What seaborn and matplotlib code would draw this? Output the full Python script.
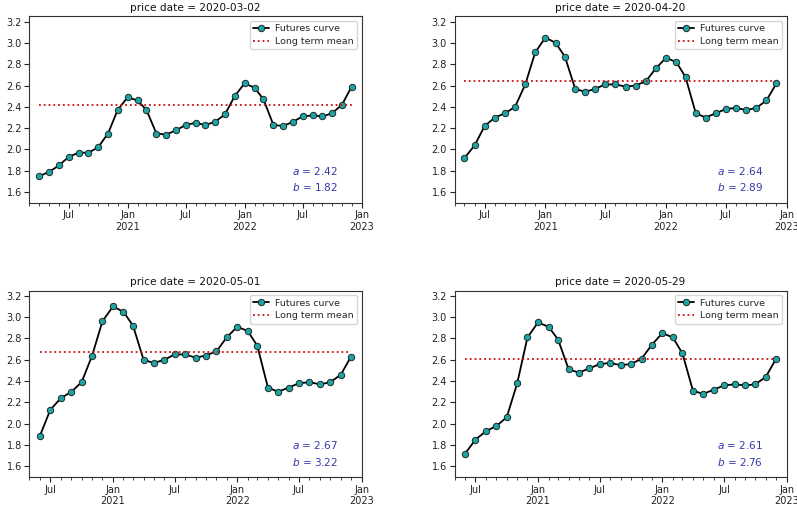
import numpy as np
import pandas as pd
import matplotlib
matplotlib.use("Agg")
import matplotlib.pyplot as plt
import matplotlib.dates as mdates
from matplotlib.ticker import FuncFormatter
import seaborn as sns

price_dates = ["2020-03-02", "2020-04-20", "2020-05-01", "2020-05-29"]
first_months = ["2020-04-01", "2020-05-01", "2020-06-01", "2020-06-01"]

curve_0302 = [1.75, 1.79, 1.85, 1.93, 1.97, 1.97, 2.02, 2.15, 2.37,
              2.49, 2.46, 2.37, 2.15, 2.14, 2.18, 2.23, 2.25, 2.23, 2.26, 2.33, 2.50,
              2.62, 2.58, 2.47, 2.23, 2.22, 2.26, 2.31, 2.32, 2.31, 2.34, 2.42, 2.59]
curve_0420 = [1.92, 2.04, 2.22, 2.30, 2.34, 2.40, 2.61, 2.91,
              3.05, 3.00, 2.87, 2.57, 2.54, 2.57, 2.61, 2.61, 2.59, 2.60, 2.64, 2.76,
              2.86, 2.82, 2.68, 2.34, 2.30, 2.34, 2.38, 2.39, 2.37, 2.39, 2.46, 2.62]
curve_0501 = [1.89, 2.13, 2.24, 2.30, 2.39, 2.64, 2.96,
              3.10, 3.05, 2.92, 2.60, 2.57, 2.60, 2.65, 2.65, 2.62, 2.64, 2.68, 2.81,
              2.91, 2.87, 2.73, 2.34, 2.30, 2.34, 2.38, 2.39, 2.37, 2.39, 2.46, 2.63]
curve_0529 = [1.72, 1.85, 1.93, 1.98, 2.06, 2.38, 2.81,
              2.95, 2.91, 2.79, 2.51, 2.48, 2.52, 2.56, 2.57, 2.55, 2.56, 2.61, 2.74,
              2.85, 2.81, 2.66, 2.31, 2.28, 2.32, 2.36, 2.37, 2.36, 2.37, 2.44, 2.61]
curves = [curve_0302, curve_0420, curve_0501, curve_0529]

a_values = [2.42, 2.64, 2.67, 2.61]
b_values = [1.82, 2.89, 3.22, 2.76]

sns.set_style("ticks")
plt.rcParams["font.family"] = ["DejaVu Sans"]

fig, axes = plt.subplots(2, 2, figsize=(7.97, 5.07), dpi=100)
fig.subplots_adjust(left=0.037, right=0.987, top=0.968, bottom=0.059,
                    wspace=0.28, hspace=0.47)

def fmt(x, pos=None):
    d = mdates.num2date(x)
    if d.month == 1:
        return "Jan\n%d" % d.year
    return d.strftime("%b")

for ax, pdate, fm, vals, a, b in zip(axes.flat, price_dates, first_months,
                                     curves, a_values, b_values):
    dates = pd.date_range(fm, periods=len(vals), freq="MS")
    df = pd.DataFrame({"date": dates, "price": vals})
    sns.lineplot(data=df, x="date", y="price", ax=ax, color="black", lw=1.3,
                 marker="o", markersize=4.6, markerfacecolor="#1fa3a3",
                 markeredgecolor="#1a2a2a", markeredgewidth=0.7,
                 label="Futures curve")
    ax.hlines(a, dates[0], dates[-1], colors="#cc1111", linestyles=":",
              lw=1.3, label="Long term mean")
    ax.set_xlim(dates[0] - pd.DateOffset(months=1), dates[-1] + pd.DateOffset(months=1))
    ax.set_ylim(1.5, 3.25)
    ax.set_yticks(np.arange(1.6, 3.21, 0.2))
    ax.yaxis.set_major_formatter(FuncFormatter(lambda v, p: "%.1f" % v))
    ax.xaxis.set_major_locator(mdates.MonthLocator(bymonth=[1, 7]))
    ax.xaxis.set_minor_locator(mdates.MonthLocator())
    ax.xaxis.set_major_formatter(FuncFormatter(fmt))
    ax.tick_params(axis="both", which="major", labelsize=7, length=3.5,
                   width=0.8, colors="#222222", pad=2)
    ax.tick_params(axis="x", which="minor", length=2, width=0.6, colors="#222222")
    for lab in ax.get_xticklabels():
        lab.set_horizontalalignment("center")
    ax.set_xlabel("")
    ax.set_ylabel("")
    ax.set_title("price date = %s" % pdate, fontsize=7.6, pad=4, color="#111111")
    for sp in ax.spines.values():
        sp.set_color("#333333")
        sp.set_linewidth(0.8)
    ax.legend(loc="upper right", fontsize=6.8, frameon=True, handlelength=1.7,
              borderpad=0.35, labelspacing=0.4, handletextpad=0.6, fancybox=True)
    ax.text(0.79, 0.05, "$a$ = %.2f\n$b$ = %.2f" % (a, b), transform=ax.transAxes,
            fontsize=7.6, color="#3838aa", ha="left", va="bottom", linespacing=1.45)

fig.savefig("out.png", dpi=100)
